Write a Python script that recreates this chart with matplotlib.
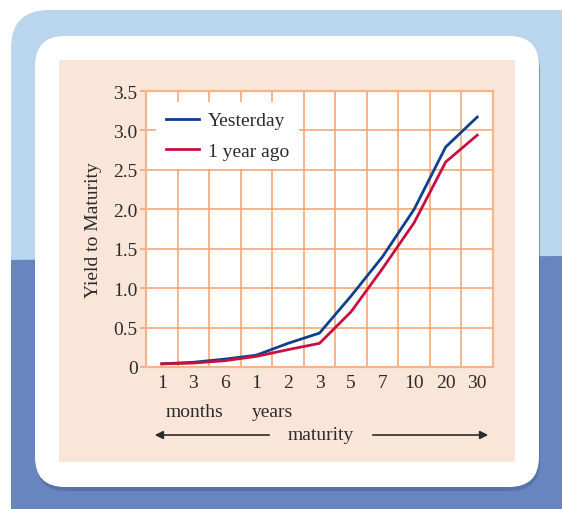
import matplotlib.pyplot as plt
from matplotlib.patches import FancyBboxPatch, Rectangle, Polygon
import numpy as np

# maturities and yields (percent)
maturities = ['1', '3', '6', '1', '2', '3', '5', '7', '10', '20', '30']
yesterday = [0.04, 0.06, 0.10, 0.15, 0.30, 0.43, 0.90, 1.40, 2.00, 2.79, 3.17]
year_ago = [0.04, 0.05, 0.08, 0.135, 0.22, 0.30, 0.70, 1.25, 1.83, 2.60, 2.94]
y_ticks = [0, 0.5, 1.0, 1.5, 2.0, 2.5, 3.0, 3.5]
y_labels = ['0', '0.5', '1.0', '1.5', '2.0', '2.5', '3.0', '3.5']

plt.rcParams['font.family'] = ['Liberation Serif', 'DejaVu Serif']
txt = '#2b2b2b'
grid_c = '#f3a16b'

W, H = 562, 510
fig = plt.figure(figsize=(W / 100, H / 100), dpi=100)
fig.patch.set_facecolor('white')

# background decoration in pixel coords
bg = fig.add_axes([0, 0, 1, 1])
bg.set_xlim(0, W)
bg.set_ylim(H, 0)
bg.axis('off')

outer = FancyBboxPatch((11, 11), 600, 560, boxstyle='round,pad=0,rounding_size=38',
                       fc='#b9d6ee', ec='none')
bg.add_patch(outer)
lower = Polygon([[0, 261], [W, 257], [W, H + 20], [0, H + 20]], closed=True,
                fc='#6885bf', ec='none')
bg.add_patch(lower)
lower.set_clip_path(outer)

shadow = FancyBboxPatch((36, 41), 504, 451, boxstyle='round,pad=0,rounding_size=30',
                        fc='#4c6396', ec='none', alpha=0.55)
bg.add_patch(shadow)
bg.add_patch(FancyBboxPatch((35, 37), 504, 451, boxstyle='round,pad=0,rounding_size=30',
                            fc='white', ec='none'))
bg.add_patch(Rectangle((59, 61), 456, 402, fc='#fae6d8', ec='none'))

bg.text(195, 413, 'months', ha='center', va='center', fontsize=14, color=txt)
bg.text(272, 413, 'years', ha='center', va='center', fontsize=14, color=txt)
bg.text(321, 436, 'maturity', ha='center', va='center', fontsize=14, color=txt)
bg.annotate('', xy=(152, 436), xytext=(272, 436),
            arrowprops=dict(arrowstyle='-|>', color=txt, lw=1.2, mutation_scale=12))
bg.annotate('', xy=(491, 436), xytext=(370, 436),
            arrowprops=dict(arrowstyle='-|>', color=txt, lw=1.2, mutation_scale=12))

# main chart
x0, x1, y0, y1 = 146, 493, 92, 368
ax = fig.add_axes([x0 / W, 1 - y1 / H, (x1 - x0) / W, (y1 - y0) / H])
ax.set_facecolor('white')
x = np.arange(len(maturities)) + 0.5
ax.plot(x, yesterday, color='#0f408f', lw=2, label='Yesterday', zorder=3)
ax.plot(x, year_ago, color='#c8103f', lw=2, label='1 year ago', zorder=3)

ax.set_xlim(0, len(maturities))
ax.set_ylim(0, 3.5)
ax.set_xticks(x)
ax.set_xticklabels(maturities)
ax.set_xticks(np.arange(0, len(maturities) + 1), minor=True)
ax.set_yticks(y_ticks)
ax.set_yticklabels(y_labels)
ax.grid(True, which='minor', axis='x', color=grid_c, lw=1.1)
ax.grid(True, which='major', axis='y', color=grid_c, lw=1.1)
ax.tick_params(axis='x', which='both', length=0, labelsize=14, labelcolor=txt, pad=5)
ax.tick_params(axis='y', length=4, color=grid_c, width=1.1, labelsize=14,
               labelcolor=txt, pad=2)
for s in ax.spines.values():
    s.set_color('#f5b48a')
    s.set_linewidth(1.6)

ax.set_ylabel('Yield to Maturity', fontsize=14, color=txt, labelpad=8)

leg = ax.legend(loc='upper left', bbox_to_anchor=(0.03, 0.96), borderaxespad=0,
                frameon=True, fancybox=False, facecolor='white', edgecolor='none',
                framealpha=1, fontsize=14, handlelength=1.7, handletextpad=0.45,
                labelspacing=0.65, borderpad=0.5)
for t in leg.get_texts():
    t.set_color(txt)

fig.savefig('out.png', dpi=100)
